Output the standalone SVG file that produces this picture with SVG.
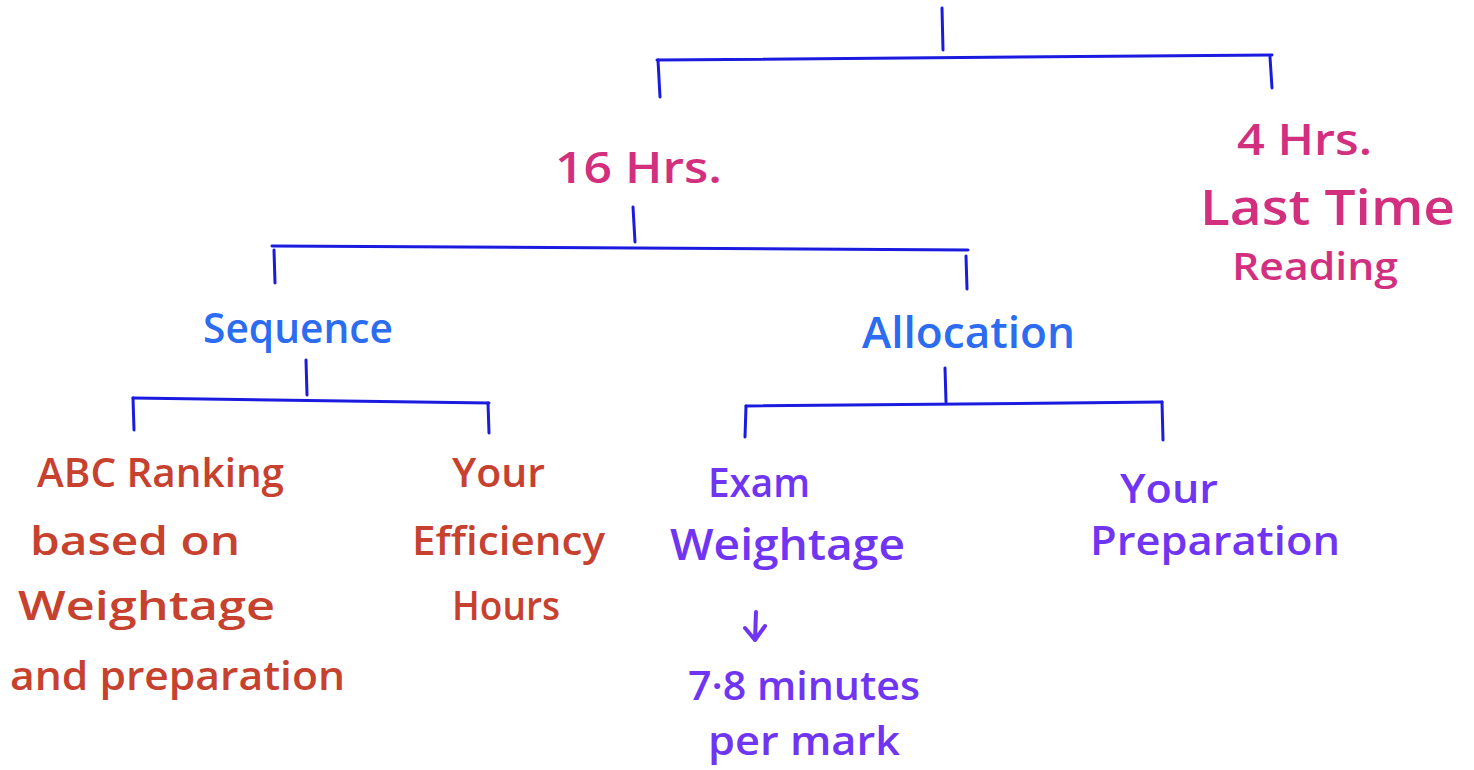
<svg xmlns="http://www.w3.org/2000/svg" width="1474" height="770" viewBox="0 0 1474 770">
<style>
.ln{stroke:#1B1BE0;stroke-width:3;fill:none;stroke-linecap:round}
.t{font-family:"Open Sans","Liberation Sans",sans-serif;font-weight:600}
.pink{fill:#D2307F}
.blue{fill:#2C6CF0}
.red{fill:#C7412F}
.pur{fill:#6F35F2}
.arr{stroke:#6F35F2;stroke-width:4;fill:none;stroke-linecap:round;stroke-linejoin:round}
</style>
<rect width="1474" height="770" fill="#fff"/>
<g id="connectors">
<path class="ln" d="M942 8 L943 50"/>
<path class="ln" d="M657 60 L1272 55"/>
<path class="ln" d="M658 60 L660 97"/>
<path class="ln" d="M1270 57 L1272 88"/>
<path class="ln" d="M633 207 L635 242"/>
<path class="ln" d="M272 246 L968 250"/>
<path class="ln" d="M274 250 L275 283"/>
<path class="ln" d="M966 256 L967 289"/>
<path class="ln" d="M306 360 L307 395"/>
<path class="ln" d="M133 398 L489 403"/>
<path class="ln" d="M133 398 L134 430"/>
<path class="ln" d="M488 403 L489 433"/>
<path class="ln" d="M945 368 L946 402"/>
<path class="ln" d="M746 406 L1162 402"/>
<path class="ln" d="M746 406 L745 437"/>
<path class="ln" d="M1162 402 L1163 440"/>
<path class="arr" d="M756 612 L755 640 M745 628 L755 640 L765 626"/>
</g>
<g id="n16hrs"><text class="t pink" x="555" y="183" font-size="44" textLength="167" lengthAdjust="spacingAndGlyphs">16 Hrs.</text></g>
<g id="n4hrs">
<text class="t pink" x="1237" y="155" font-size="44" textLength="135" lengthAdjust="spacingAndGlyphs">4 Hrs.</text>
<text class="t pink" x="1200" y="225" font-size="48" textLength="255" lengthAdjust="spacingAndGlyphs">Last Time</text>
<text class="t pink" x="1232" y="280" font-size="38" textLength="166" lengthAdjust="spacingAndGlyphs">Reading</text>
</g>
<g id="sequence"><text class="t blue" x="203" y="343" font-size="42" textLength="190" lengthAdjust="spacingAndGlyphs">Sequence</text></g>
<g id="allocation"><text class="t blue" x="862" y="348" font-size="44" textLength="213" lengthAdjust="spacingAndGlyphs">Allocation</text></g>
<g id="abc">
<text class="t red" x="37" y="487" font-size="40" textLength="247" lengthAdjust="spacingAndGlyphs">ABC Ranking</text>
<text class="t red" x="30" y="555" font-size="40" textLength="210" lengthAdjust="spacingAndGlyphs">based on</text>
<text class="t red" x="18" y="620" font-size="40" textLength="257" lengthAdjust="spacingAndGlyphs">Weightage</text>
<text class="t red" x="10" y="690" font-size="40" textLength="335" lengthAdjust="spacingAndGlyphs">and preparation</text>
</g>
<g id="efficiency">
<text class="t red" x="452" y="487" font-size="40" textLength="93" lengthAdjust="spacingAndGlyphs">Your</text>
<text class="t red" x="412" y="555" font-size="40" textLength="193" lengthAdjust="spacingAndGlyphs">Efficiency</text>
<text class="t red" x="452" y="620" font-size="40" textLength="108" lengthAdjust="spacingAndGlyphs">Hours</text>
</g>
<g id="exam">
<text class="t pur" x="708" y="497" font-size="40" textLength="102" lengthAdjust="spacingAndGlyphs">Exam</text>
<text class="t pur" x="670" y="560" font-size="44" textLength="235" lengthAdjust="spacingAndGlyphs">Weightage</text>
</g>
<g id="minutes">
<text class="t pur" x="688" y="700" font-size="40" textLength="232" lengthAdjust="spacingAndGlyphs">7·8 minutes</text>
<text class="t pur" x="708" y="755" font-size="40" textLength="192" lengthAdjust="spacingAndGlyphs">per mark</text>
</g>
<g id="yourprep">
<text class="t pur" x="1120" y="503" font-size="40" textLength="98" lengthAdjust="spacingAndGlyphs">Your</text>
<text class="t pur" x="1090" y="555" font-size="40" textLength="250" lengthAdjust="spacingAndGlyphs">Preparation</text>
</g>
</svg>
